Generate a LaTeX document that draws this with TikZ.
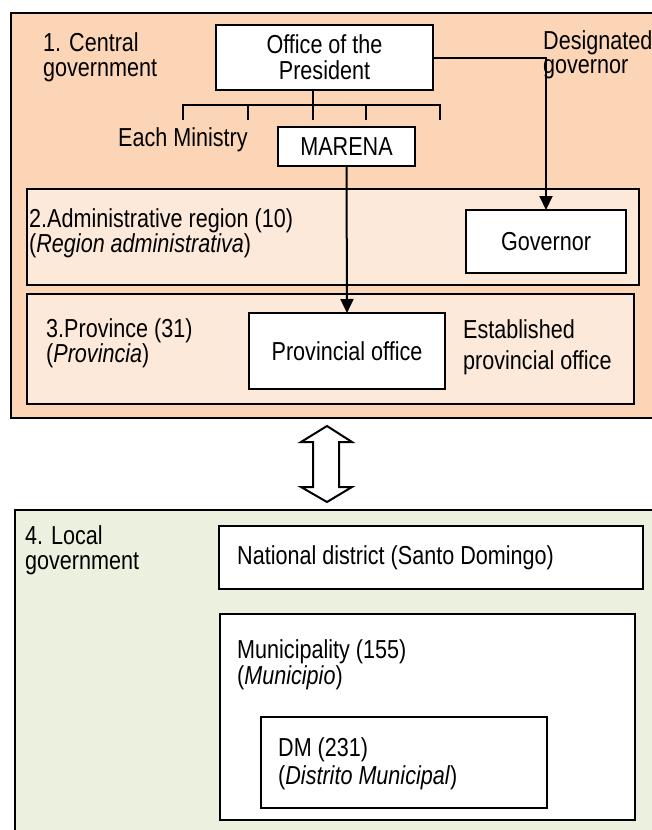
\documentclass[tikz,border=0pt]{standalone}
\usepackage{fontspec}
\setmainfont{Liberation Sans}[FakeStretch=0.83]
\usetikzlibrary{arrows.meta}
\definecolor{orgfill}{HTML}{FBD5B5}
\definecolor{orglite}{HTML}{FDE9D9}
\definecolor{grnfill}{HTML}{EBF1DE}
\begin{document}
\begin{tikzpicture}[x=1pt,y=-1pt,
  frame/.style={draw=black, line width=2pt, inner sep=0, outer sep=0, anchor=north west},
  wbox/.style={draw=black, line width=2pt, fill=white, inner sep=0, outer sep=0, align=center,
               font=\fontsize{26}{26}\selectfont},
  lbl/.style={inner sep=0, anchor=west, align=left},
  link/.style={line width=2pt},
  arr/.style={link, -{Triangle[width=13pt,length=14pt]}},
]
\clip (0,0) rectangle (652,830);

% central government block
\node[frame, fill=orgfill, minimum width=660, minimum height=405] (cgov) at (11,13) {};
\node[frame, fill=orglite, minimum width=612, minimum height=96] (region) at (27,189) {};
\node[frame, fill=orglite, minimum width=607, minimum height=110] (province) at (27,294) {};

\node[lbl, font=\fontsize{26}{25}\selectfont] (cgovlbl) at (43,57.5) {1. Central\\government};
\node[wbox, minimum width=217, minimum height=65] (office) at (324.5,57.5) {Office of the\\President};
\node[lbl, font=\fontsize{26}{24}\selectfont] (desig) at (543,55) {Designated\\governor};
\node[lbl, font=\fontsize{26}{25}\selectfont] (ministry) at (118,140) {Each Ministry};
\node[wbox, minimum width=137, minimum height=39] (marena) at (346.5,146.5) {MARENA};

\node[lbl, font=\fontsize{26}{23}\selectfont] (reglbl) at (29,233.5) {2.Administrative region (10)\\(\textit{Region administrativa})};
\node[wbox, minimum width=160, minimum height=63] (gov) at (546,241.5) {Governor};

\node[lbl, font=\fontsize{26}{23}\selectfont] (provlbl) at (46,343.5) {3.Province (31)\\(\textit{Provincia})};
\node[wbox, minimum width=196, minimum height=76] (provoff) at (347,351) {Provincial office};
\node[lbl, font=\fontsize{26}{31}\selectfont] (estab) at (463,347.5) {Established\\provincial office};

% ministries bracket
\coordinate (bar) at (313,105);
\draw[link] (office.south -| bar) -- (bar);
\foreach \tx in {183,248,313,366,440} \coordinate (tick\tx) at (\tx,120);
\draw[link] (tick183) -- (tick183 |- bar) -- (tick440 |- bar) -- (tick440);
\foreach \tx in {248,313,366} \draw[link] (tick\tx |- bar) -- (tick\tx);

% appointment and branch office links
\draw[arr] (office.east) -| (gov.north);
\draw[arr] (marena.south) -- (provoff.north);

% two-way relation between the levels
\draw[line width=2pt, fill=white, line join=miter]
  (327,426) -- (352,442) -- (339,442) -- (339,487) -- (352,487) -- (327,502)
  -- (301,487) -- (313,487) -- (313,442) -- (301,442) -- cycle;

% local government block
\node[frame, fill=grnfill, minimum width=660, minimum height=340] (lgov) at (15,510) {};
\node[lbl, font=\fontsize{26}{25}\selectfont] (lgovlbl) at (25,550.5) {4. Local\\government};
\node[frame, fill=white, minimum width=424, minimum height=63] (natl) at (219,526) {};
\node[lbl, font=\fontsize{26}{25}\selectfont] (natllbl) at (237,557.5) {National district (Santo Domingo)};
\node[frame, fill=white, minimum width=415, minimum height=206] (muni) at (220,614) {};
\node[lbl, font=\fontsize{26}{26}\selectfont] (munilbl) at (237,665) {Municipality (155)\\(\textit{Municipio})};
\node[frame, fill=white, minimum width=286, minimum height=91] (dm) at (261,717) {};
\node[lbl, font=\fontsize{26}{28}\selectfont] (dmlbl) at (278,764) {DM (231)\\(\textit{Distrito Municipal})};
\end{tikzpicture}
\end{document}
